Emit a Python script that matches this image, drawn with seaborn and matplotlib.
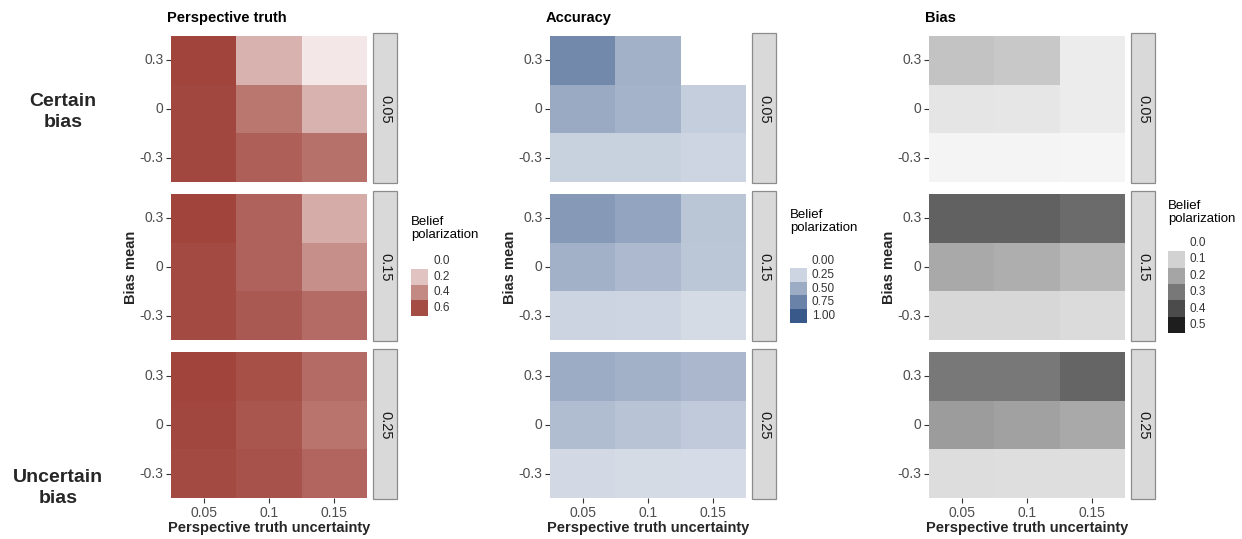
import numpy as np
import pandas as pd
import matplotlib
matplotlib.use("Agg")
import matplotlib.pyplot as plt
import seaborn as sns
from matplotlib.colors import LinearSegmentedColormap
from matplotlib.patches import Rectangle

sns.set_theme(style="white")
plt.rcParams["font.family"] = ["Liberation Sans", "DejaVu Sans"]

# ---------------- data ----------------
truth_uncertainty = ["0.05", "0.1", "0.15"]
bias_mean = ["0.3", "0", "-0.3"]          # top to bottom
bias_uncertainty = ["0.05", "0.15", "0.25"]

# rows: bias mean 0.3, 0, -0.3 ; cols: truth uncertainty 0.05, 0.1, 0.15
truth_005 = [[0.63, 0.26, 0.08], [0.62, 0.46, 0.26], [0.62, 0.54, 0.48]]
truth_015 = [[0.63, 0.53, 0.28], [0.61, 0.53, 0.38], [0.61, 0.56, 0.50]]
truth_025 = [[0.63, 0.59, 0.50], [0.62, 0.57, 0.47], [0.61, 0.58, 0.52]]

accuracy_005 = [[0.71, 0.47, 0.00], [0.51, 0.46, 0.30], [0.28, 0.28, 0.25]]
accuracy_015 = [[0.61, 0.55, 0.35], [0.47, 0.42, 0.34], [0.26, 0.25, 0.22]]
accuracy_025 = [[0.50, 0.47, 0.43], [0.40, 0.36, 0.32], [0.23, 0.22, 0.21]]

bias_005 = [[0.133, 0.122, 0.044], [0.060, 0.056, 0.044], [0.027, 0.027, 0.022]]
bias_015 = [[0.350, 0.350, 0.330], [0.190, 0.180, 0.155], [0.089, 0.089, 0.082]]
bias_025 = [[0.300, 0.300, 0.340], [0.220, 0.210, 0.190], [0.078, 0.073, 0.073]]

truth_legend = [0.0, 0.2, 0.4, 0.6]
accuracy_legend = [0.0, 0.25, 0.5, 0.75, 1.0]
bias_legend = [0.0, 0.1, 0.2, 0.3, 0.4, 0.5]

panels = [
    dict(title="Perspective truth", data=[truth_005, truth_015, truth_025],
         cmap=LinearSegmentedColormap.from_list("r", ["#FFFFFF", "#9D3F36"]), vmax=0.65,
         left=171, leg=dict(x=411, top=216, c0=261, step=15.7, vals=truth_legend, fmt="{:.1f}")),
    dict(title="Accuracy", data=[accuracy_005, accuracy_015, accuracy_025],
         cmap=LinearSegmentedColormap.from_list("b", ["#FFFFFF", "#39598A"]), vmax=1.0,
         left=550, leg=dict(x=790, top=209, c0=261, step=13.8, vals=accuracy_legend, fmt="{:.2f}")),
    dict(title="Bias", data=[bias_005, bias_015, bias_025],
         cmap=LinearSegmentedColormap.from_list("g", ["#FFFFFF", "#1E1E1E"]), vmax=0.5,
         left=929, leg=dict(x=1168, top=200, c0=243, step=16.4, vals=bias_legend, fmt="{:.1f}")),
]

# ---------------- layout ----------------
W, H = 1242, 539
fig = plt.figure(figsize=(W / 100, H / 100), dpi=100)
fig.patch.set_facecolor("white")


def fx(x):
    return x / W


def fy(y):
    return 1 - y / H


rows = [(36, 182), (194, 340), (352, 498)]
PW = 196

for p in panels:
    L = p["left"]
    for i, (y0, y1) in enumerate(rows):
        ax = fig.add_axes([fx(L), fy(y1), PW / W, (y1 - y0) / H])
        df = pd.DataFrame(p["data"][i], index=bias_mean, columns=truth_uncertainty)
        sns.heatmap(df, ax=ax, cmap=p["cmap"], vmin=0, vmax=p["vmax"], cbar=False,
                    linewidths=0)
        ax.set_xlabel("")
        ax.set_ylabel("")
        ax.set_yticks([0.5, 1.5, 2.5])
        ax.set_yticklabels(bias_mean, rotation=0)
        ax.tick_params(axis="both", length=3.5, width=0.8, color="#333333",
                       labelsize=10, labelcolor="#4D4D4D", pad=2,
                       left=True, bottom=(i == 2))
        if i == 2:
            ax.set_xticks([0.5, 1.5, 2.5])
            ax.set_xticklabels(truth_uncertainty, rotation=0)
        else:
            ax.set_xticks([])
        for s in ax.spines.values():
            s.set_visible(False)
        # strip
        sx0 = L + PW + 6
        fig.add_artist(Rectangle((fx(sx0), fy(y1 + 1)), 24 / W, (y1 - y0 + 4) / H,
                                 transform=fig.transFigure, facecolor="#D9D9D9",
                                 edgecolor="#8C8C8C", linewidth=0.9))
        fig.text(fx(sx0 + 12), fy((y0 + y1) / 2), bias_uncertainty[i], rotation=270,
                 ha="center", va="center", fontsize=10.5, color="#1A1A1A")

    # panel title
    fig.text(fx(L - 4), fy(18), p["title"], fontsize=10.5, fontweight="bold",
             ha="left", va="center", color="black")
    # axis labels
    fig.text(fx(L + PW / 2), fy(528), "Perspective truth uncertainty", fontsize=10.5,
             fontweight="bold", ha="center", va="center")
    fig.text(fx(L - 40), fy(267), "Bias mean", fontsize=10.5, fontweight="bold",
             rotation=90, ha="center", va="center")

    # legend
    lg = p["leg"]
    fig.text(fx(lg["x"]), fy(lg["top"]), "Belief\npolarization", fontsize=9.5,
             ha="left", va="top", linespacing=1.15, color="black")
    for k, v in enumerate(lg["vals"]):
        c = lg["c0"] + k * lg["step"]
        col = p["cmap"](v / p["vmax"])
        fig.add_artist(Rectangle((fx(lg["x"]), fy(c + lg["step"] / 2)), 17 / W,
                                 lg["step"] / H, transform=fig.transFigure,
                                 facecolor=col, edgecolor="none"))
        fig.text(fx(lg["x"] + 22), fy(c), lg["fmt"].format(v), fontsize=8.5,
                 ha="left", va="center", color="#333333")

# row group labels
fig.text(fx(63), fy(112), "Certain\nbias", fontsize=14, fontweight="bold",
         ha="center", va="center", linespacing=1.25)
fig.text(fx(58), fy(488), "Uncertain\nbias", fontsize=14, fontweight="bold",
         ha="center", va="center", linespacing=1.25)

fig.savefig("out.png", dpi=100, facecolor="white")
